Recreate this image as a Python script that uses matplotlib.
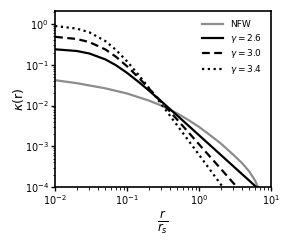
import matplotlib
matplotlib.use("Agg")
import matplotlib.pyplot as plt

# values (log-log axes)
r_nfw = [0.01, 0.02, 0.05, 0.1, 0.2, 0.3, 0.5, 0.7, 1.0, 1.5, 2.0, 3.0, 4.0, 5.0, 6.0, 7.0, 8.0]
k_nfw = [0.042, 0.0355, 0.0265, 0.0198, 0.0133, 0.0100, 0.0064, 0.0045, 0.0030,
         0.00175, 0.00118, 6.2e-4, 3.8e-4, 2.4e-4, 1.45e-4, 8e-5, 4e-5]

r_g = [0.01, 0.02, 0.03, 0.05, 0.07, 0.1, 0.15, 0.2, 0.3, 0.5, 0.7, 1.0, 1.5, 2.0, 3.0, 5.0, 7.0, 10.0]
k_26 = [0.241, 0.219, 0.190, 0.136, 0.098, 0.0637, 0.0362, 0.0236, 0.01264, 0.00565,
        0.00331, 0.00187, 9.8e-4, 6.18e-4, 3.23e-4, 1.43e-4, 8.3e-5, 4.7e-5]
k_30 = [0.488, 0.432, 0.362, 0.239, 0.1585, 0.0923, 0.0456, 0.0267, 0.01222, 0.00447,
        0.00229, 0.00112, 5.0e-4, 2.82e-4, 1.25e-4, 4.5e-5, 2e-5, 8e-6]
k_34 = [0.901, 0.778, 0.630, 0.383, 0.234, 0.122, 0.0524, 0.0276, 0.0108, 0.00323,
        0.00145, 6.2e-4, 2.33e-4, 1.17e-4, 4.4e-5, 1.2e-5, 5e-6, 2e-6]

labels = ["NFW", r"$\gamma = 2.6$", r"$\gamma = 3.0$", r"$\gamma = 3.4$"]

fig = plt.figure(figsize=(2.87, 2.40), dpi=100)
ax = fig.add_axes([0.192, 0.221, 0.752, 0.733])

ax.loglog(r_nfw, k_nfw, color="#8c8c8c", lw=1.6, label=labels[0])
ax.loglog(r_g, k_26, color="black", lw=1.6, ls="-", label=labels[1])
ax.loglog(r_g, k_30, color="black", lw=1.6, ls=(0, (3.5, 2)), label=labels[2])
ax.loglog(r_g, k_34, color="black", lw=1.6, ls=(0, (1, 1.6)), label=labels[3])

ax.set_xlim(1e-2, 1e1)
ax.set_ylim(1e-4, 2.1)
ax.set_xlabel(r"$\frac{r}{r_s}$", fontsize=12, labelpad=2)
ax.set_ylabel(r"$\kappa$(r)", fontsize=9, labelpad=-1)

for s in ax.spines.values():
    s.set_linewidth(1.2)
ax.tick_params(which="major", labelsize=7, length=3, width=1, pad=1.5)
ax.tick_params(which="minor", length=1.8, width=0.6)

ax.legend(loc="upper right", frameon=False, fontsize=6.5, handlelength=2.4,
          labelspacing=0.3, borderaxespad=0.6, handletextpad=0.7)

fig.savefig("out.png", dpi=100)
